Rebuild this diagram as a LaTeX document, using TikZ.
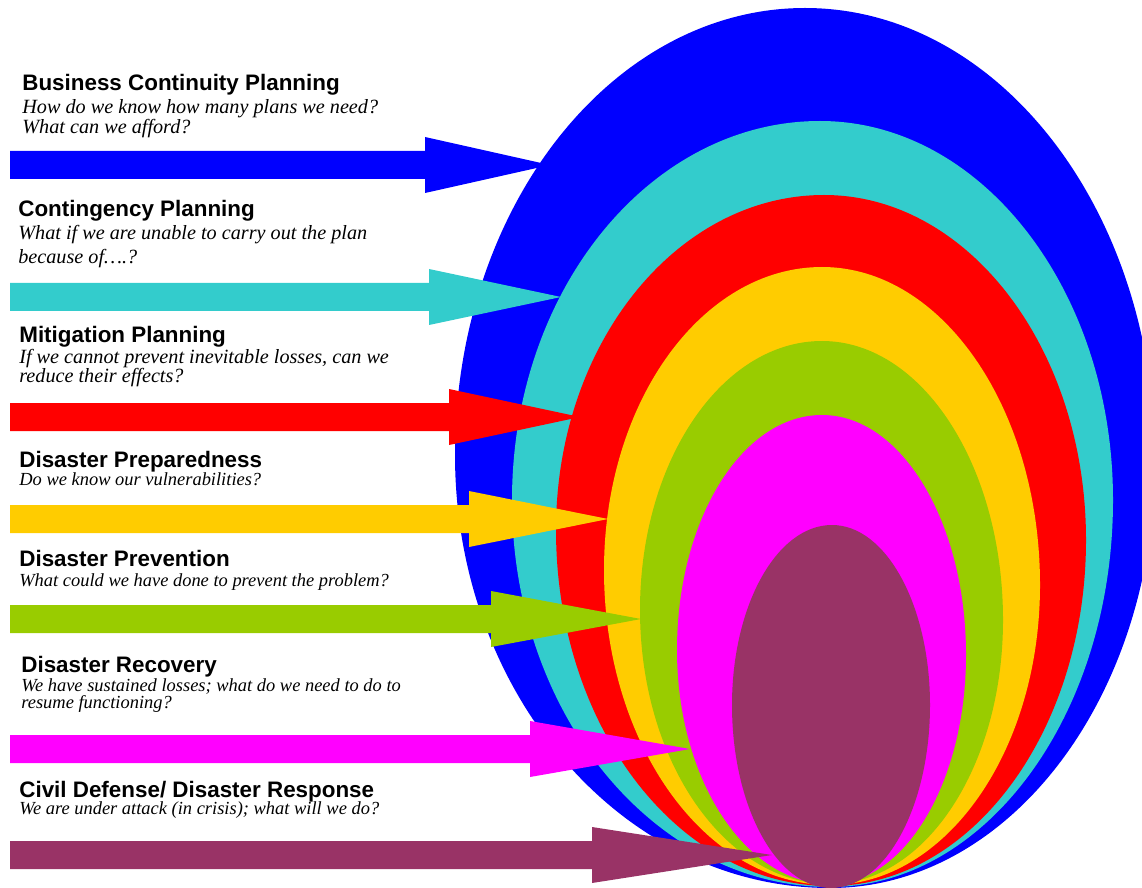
\documentclass[tikz,border=0pt]{standalone}
\usepackage{fontspec}
\setmainfont{Liberation Serif}
\setsansfont{Liberation Sans}
\definecolor{ringblue}{RGB}{0,0,255}
\definecolor{ringcyan}{RGB}{51,204,204}
\definecolor{ringred}{RGB}{255,0,0}
\definecolor{ringyellow}{RGB}{255,204,0}
\definecolor{ringgreen}{RGB}{153,204,0}
\definecolor{ringmagenta}{RGB}{255,0,255}
\definecolor{ringplum}{RGB}{153,51,102}
\usetikzlibrary{positioning}

% egg shape from four quarter ellipses: colour, top x/y, right x/y, bottom x/y, left x/y
\newcommand{\egg}[9]{%
  \fill[#1] (#2,#3)
    arc[start angle=270,end angle=360,x radius=#4-#2,y radius=#5-#3]
    arc[start angle=0,end angle=90,x radius=#4-#6,y radius=#7-#5]
    arc[start angle=90,end angle=180,x radius=#6-#8,y radius=#7-#9]
    arc[start angle=180,end angle=270,x radius=#2-#8,y radius=#9-#3] -- cycle;}
% block arrow: colour, centre y, head start x, tip x
\newcommand{\blockarrow}[4]{%
  \fill[#1] (10,{#2-14}) -- (#3,{#2-14}) -- (#3,{#2-28}) -- (#4,#2)
    -- (#3,{#2+28}) -- (#3,{#2+14}) -- (10,{#2+14}) -- cycle;}

\begin{document}
\begin{tikzpicture}[x=0.02cm,y=-0.02cm,
  planhead/.style={anchor=base west,inner sep=0pt,
    font=\sffamily\bfseries\fontsize{12.75}{14}\selectfont},
  planask/.style={anchor=north west,inner sep=0pt,align=left,
    font=\itshape\fontsize{11.5}{11.4}\selectfont},
  smallask/.style={planask,font=\itshape\fontsize{10.5}{11.4}\selectfont}
]
  \useasboundingbox (0,0) rectangle (1142,888);
  % Nested rings, outermost first
  \egg{ringblue}{805}{8}{1155}{460}{830}{888}{455}{455}
  \egg{ringcyan}{820}{121}{1113}{500}{830}{887}{512}{500}
  \egg{ringred}{824}{195}{1086}{540}{830}{886}{556}{530}
  \egg{ringyellow}{822}{267}{1040}{585}{830}{885}{604}{570}
  \egg{ringgreen}{822}{341}{1003}{620}{830}{884}{640}{610}
  \egg{ringmagenta}{822}{415}{966}{655}{830}{884}{677}{650}
  \egg{ringplum}{832}{525}{930}{705}{831}{888}{732}{705}
  % Arrows into the rings
  \blockarrow{ringblue}{165}{425}{550}
  \blockarrow{ringcyan}{297}{429}{561}
  \blockarrow{ringred}{417}{449}{580}
  \blockarrow{ringyellow}{519}{469}{608}
  \blockarrow{ringgreen}{619}{491}{641}
  \blockarrow{ringmagenta}{749}{530}{690}
  \blockarrow{ringplum}{855}{592}{772}
  % Headings and questions
  \node[planhead] (bcp) at (22,91) {Business Continuity Planning};
  \node[planask] (bcpq) at (22,99) {How do we know how many plans we need?\\What can we afford?};
  \node[planhead] (cp) at (18,217) {Contingency Planning};
  \node[planask] (cpq) at (18,225) {What if we are unable to carry out the plan\\[2.3pt]because of\dots.?};
  \node[planhead] (mp) at (19,342) {Mitigation Planning};
  \node[planask] (mpq) at (19,349) {If we cannot prevent inevitable losses, can we\\[-0.6pt]reduce their effects?};
  \node[planhead] (dpr) at (19,467) {Disaster Preparedness};
  \node[smallask] (dprq) at (19,472) {Do we know our vulnerabilities?};
  \node[planhead] (dpv) at (19,566) {Disaster Prevention};
  \node[smallask] (dpvq) at (19,573) {What could we have done to prevent the problem?};
  \node[planhead] (drc) at (21,672) {Disaster Recovery};
  \node[smallask] (drcq) at (21,678) {We have sustained losses; what do we need to do to\\[-1.7pt]resume functioning?};
  \node[planhead] (cdr) at (19,797) {Civil Defense/ Disaster Response};
  \node[smallask] (cdrq) at (19,801) {We are under attack (in crisis); what will we do?};
\end{tikzpicture}
\end{document}
